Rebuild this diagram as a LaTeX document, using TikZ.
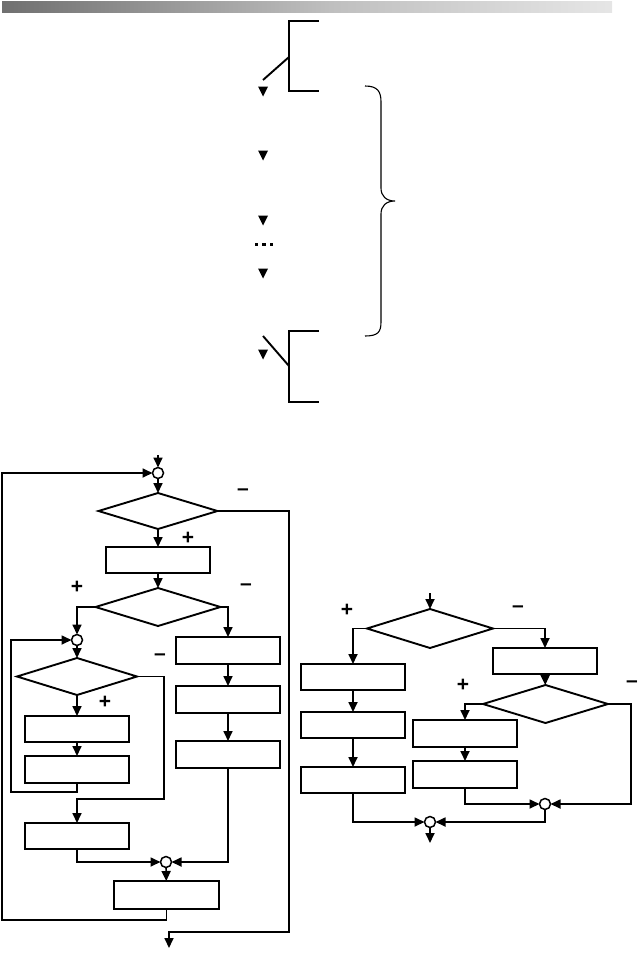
\documentclass[tikz,border=0pt]{standalone}
\usepackage{fontspec}
\setmainfont{Liberation Sans}
\usetikzlibrary{shapes.geometric,arrows.meta}
\pgfdeclarehorizontalshading{topbar}{100bp}{color(0bp)=(black!88); color(26bp)=(black!55); color(52bp)=(black!25); color(78bp)=(black!8); color(100bp)=(white)}
\begin{document}
\begin{tikzpicture}[x=1pt,y=-1pt,
  box/.style={draw, line width=1.9pt, minimum width=104pt, minimum height=26pt, inner sep=0pt, outer sep=0pt},
  dia/.style={draw, diamond, line width=1.9pt, inner sep=0pt, outer sep=0pt},
  jn/.style={draw, circle, line width=1.5pt, minimum size=11pt, inner sep=0pt, outer sep=0pt, fill=white},
  conn/.style={line width=1.7pt},
  arr/.style={conn, -{Triangle[length=10pt,width=9pt]}},
  bk/.style={line width=1.9pt},
  sign/.style={font=\fontsize{21}{21}\selectfont\bfseries, inner sep=0pt}]
\useasboundingbox (0,0) rectangle (640,953);
% header bar
\shade[shading=topbar] (2,1) rectangle (612,12);
% top section
\draw[bk] (319,21) -- (289,21) -- (289,91) -- (319,91);
\draw[bk] (289,57) -- (263,80);
\draw[bk] (319,331) -- (289,331) -- (289,402) -- (319,402);
\draw[bk] (263,336) -- (289,366);
\foreach \y in {86.5,150.5,215.5,268.5,349.5} \fill (258,\y) -- (268,\y) -- (263,\y+10) -- cycle;
\foreach \x in {254.5,262,269.5} \fill (\x,242.5) rectangle ++(3.5,3.5);
\draw[line width=1.1pt] (365,86) .. controls (378,86) and (381,92) .. (381,102) -- (381,188)
  .. controls (381,196) and (386,201) .. (395,201) .. controls (386,201) and (381,206) .. (381,214)
  -- (381,322) .. controls (381,332) and (378,336) .. (365,336);
% left flowchart
\node[jn] (c1) at (158,473) {};
\node[dia, minimum width=119pt, minimum height=36pt] (D1) at (158,511) {};
\node[box] (b1) at (158,560) {};
\node[dia, minimum width=125pt, minimum height=38pt] (D2) at (158,607) {};
\node[jn] (c2) at (77,640) {};
\node[dia, minimum width=120pt, minimum height=37pt] (D3) at (77,676.5) {};
\node[box] (L1) at (77,729) {};
\node[box, minimum height=27pt] (L2) at (77,769.5) {};
\node[box] (L3) at (77,836) {};
\node[box, minimum height=27pt] (R1) at (228,650.5) {};
\node[box, minimum height=27pt] (R2) at (228,699.5) {};
\node[box, minimum height=27pt] (R3) at (228,754.5) {};
\node[jn] (c3) at (166,862) {};
\node[box, minimum width=105pt, minimum height=28pt] (B) at (166.5,895) {};
\coordinate (in1) at (158,455);
\coordinate (o1) at (289,932);
\coordinate (out1) at (169,948);
\coordinate (lp) at (11,792);
\coordinate (d3r) at (164,799);
\coordinate (ol) at (2,920);
\draw[arr] (in1) -- (c1);
\draw[arr] (c1) -- (D1);
\draw[arr] (D1.east) -| (o1) -| (out1);
\draw[arr] (D1) -- (b1);
\draw[arr] (b1) -- (D2);
\draw[arr] (D2.west) -| (c2.north);
\draw[arr] (D2.east) -| (R1.north);
\draw[arr] (R1) -- (R2);
\draw[arr] (R2) -- (R3);
\draw[arr] (R3.south) |- (c3.east);
\draw[arr] (c2) -- (D3);
\draw[arr] (D3) -- (L1);
\draw[arr] (L1) -- (L2);
\draw[arr] (L2.south) |- (lp) |- (c2.west);
\draw[arr] (D3.east) -| (d3r) -| (L3.north);
\draw[arr] (L3.south) |- (c3.west);
\draw[arr] (c3) -- (B);
\draw[arr] (B.south) |- (ol) |- (c1.west);
% right flowchart
\node[dia, minimum width=126pt, minimum height=39pt] (DR) at (430,628.5) {};
\node[box] (A1) at (353,677) {};
\node[box] (A2) at (353,725) {};
\node[box] (A3) at (353,780) {};
\node[box] (B1) at (545,661) {};
\node[dia, minimum width=125pt, minimum height=38pt] (DR2) at (545.5,704) {};
\node[box, minimum height=27pt] (C1) at (465,733.5) {};
\node[box, minimum height=27pt] (C2) at (465,774.5) {};
\node[jn] (cr1) at (545,804) {};
\node[jn] (cr2) at (430,822) {};
\coordinate (in2) at (430,593);
\coordinate (out2) at (430,843);
\coordinate (r2r) at (631,804);
\draw[arr] (in2) -- (DR);
\draw[arr] (DR.west) -| (A1.north);
\draw[arr] (A1) -- (A2);
\draw[arr] (A2) -- (A3);
\draw[arr] (A3.south) |- (cr2.west);
\draw[arr] (DR.east) -| (B1.north);
\draw[arr] (B1) -- (DR2);
\draw[arr] (DR2.west) -| (C1.north);
\draw[arr] (C1) -- (C2);
\draw[arr] (C2.south) |- (cr1.west);
\draw[arr] (DR2.east) -| (r2r) -- (cr1.east);
\draw[arr] (cr1.south) |- (cr2.east);
\draw[arr] (cr2) -- (out2);
% signs
\node[sign] (m1) at (243,492) {–};
\node[sign] (p1) at (188,538) {+};
\node[sign] (p2) at (77,587) {+};
\node[sign] (m2) at (246,587) {–};
\node[sign] (p3) at (105,702) {+};
\node[sign] (m3) at (160,657) {–};
\node[sign] (p4) at (347,610) {+};
\node[sign] (m4) at (518,609) {–};
\node[sign] (p5) at (463,685) {+};
\node[sign] (m5) at (632,684) {–};
\end{tikzpicture}
\end{document}
